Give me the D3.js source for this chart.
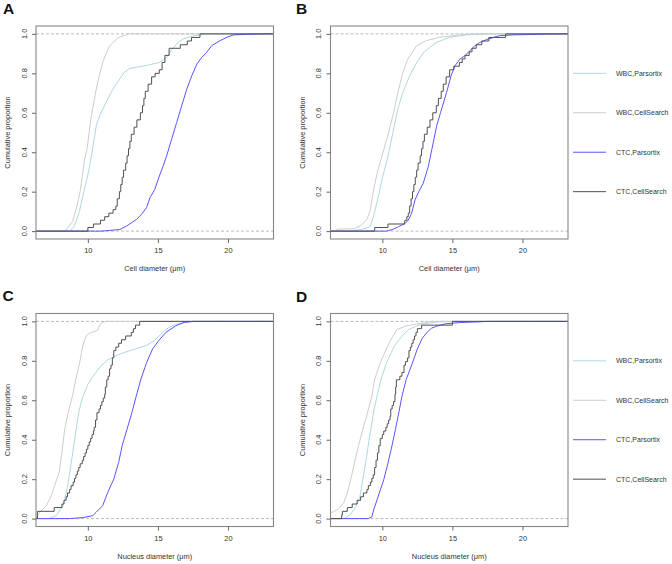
<!DOCTYPE html>
<html>
<head>
<meta charset="utf-8">
<script src="https://cdn.jsdelivr.net/npm/d3@7"></script>
<style>
  html, body { margin: 0; padding: 0; background: #fff; }
  svg { display: block; font-family: "Liberation Sans", Arial, Helvetica, sans-serif; }
</style>
</head>
<body>
<div id="chart"></div>
<script>
// ---------------- DATA ----------------
const categories = ["WBC,Parsortix", "WBC,CellSearch", "CTC,Parsortix", "CTC,CellSearch"];
const panelLetters = ["A", "B", "C", "D"];
const xTitles = ["Cell diameter (\u03bcm)", "Cell diameter (\u03bcm)", "Nucleus diameter (\u03bcm)", "Nucleus diameter (\u03bcm)"];
const yTitle = "Cumulative proportion";
const xTicks = [10, 15, 20];
const yTicks = [0, 0.2, 0.4, 0.6, 0.8, 1.0];
const xLimits = [6.3, 23.25];
const yLimits = [-0.04, 1.04];

// Panel A — cell diameter
const A_wbcParsortix = [[8.7,0],[9.04,0.025],[9.4,0.1],[9.72,0.2],[10.05,0.3],[10.3,0.4],[10.6,0.534],[10.84,0.585],[11.3,0.653],[11.79,0.72],[12.22,0.765],[12.6,0.805],[13.0,0.825],[14.2,0.84],[15.14,0.856],[15.62,0.88],[15.98,0.92],[16.5,0.96],[16.82,0.975],[17.54,0.99],[18.5,1]];
const A_wbcCellSearch = [[8.35,0],[8.6,0.02],[8.92,0.05],[9.2,0.12],[9.45,0.2],[9.76,0.36],[9.95,0.42],[10.24,0.58],[10.5,0.68],[10.6,0.72],[10.85,0.8],[11.08,0.86],[11.3,0.9],[11.56,0.94],[12.15,0.98],[12.5,0.99],[12.9,1]];
const A_ctcParsortix = [[11.0,0],[12.27,0.008],[12.75,0.025],[13.11,0.042],[13.47,0.059],[13.83,0.085],[14.19,0.119],[14.43,0.169],[14.78,0.212],[15.02,0.263],[15.38,0.331],[15.62,0.381],[15.98,0.466],[16.34,0.551],[16.7,0.636],[17.06,0.72],[17.42,0.788],[17.78,0.847],[18.13,0.881],[18.49,0.907],[18.85,0.941],[19.45,0.966],[19.93,0.983],[20.41,0.995],[21.36,0.998],[22.5,1]];
const A_ctcCellSearch = [[10.0,0.018],[10.4,0.036],[10.9,0.055],[11.2,0.073],[11.5,0.091],[11.8,0.109],[12.0,0.127],[12.1,0.164],[12.25,0.2],[12.35,0.236],[12.45,0.273],[12.55,0.309],[12.7,0.345],[12.8,0.382],[12.9,0.418],[13.0,0.455],[13.1,0.491],[13.3,0.527],[13.5,0.564],[13.75,0.6],[13.9,0.636],[14.0,0.673],[14.1,0.709],[14.3,0.745],[14.55,0.782],[14.8,0.8],[15.1,0.818],[15.3,0.855],[15.5,0.891],[15.8,0.927],[16.6,0.945],[17.1,0.964],[17.4,0.982],[18.0,1]];

// Panel B — cell diameter
const B_wbcParsortix = [[7.7,0],[8.5,0.008],[9.12,0.022],[9.36,0.073],[9.7,0.17],[10.0,0.27],[10.35,0.362],[10.6,0.447],[10.85,0.532],[11.1,0.617],[11.45,0.702],[11.95,0.787],[12.5,0.86],[13.0,0.91],[13.87,0.957],[14.82,0.983],[16.01,0.995],[17.67,1]];
const B_wbcCellSearch = [[6.7,0],[6.75,0.01],[8.0,0.012],[8.5,0.03],[8.9,0.06],[9.12,0.1],[9.35,0.2],[9.65,0.3],[10.05,0.4],[10.45,0.5],[10.8,0.6],[11.1,0.7],[11.45,0.8],[11.8,0.87],[12.45,0.94],[13.16,0.966],[14.11,0.983],[15.53,0.995],[16.5,1]];
const B_ctcParsortix = [[10.3,0],[10.8,0.01],[11.14,0.022],[11.62,0.039],[11.85,0.056],[12.09,0.09],[12.33,0.158],[12.6,0.2],[12.92,0.243],[13.28,0.328],[13.55,0.42],[13.87,0.532],[14.15,0.6],[14.58,0.702],[14.9,0.787],[15.18,0.838],[15.53,0.872],[15.89,0.889],[16.25,0.915],[16.6,0.94],[16.96,0.957],[17.55,0.974],[18.38,0.991],[19.33,0.995],[22.5,1]];
const B_ctcCellSearch = [[9.45,0.018],[10.4,0.036],[11.6,0.055],[11.75,0.073],[11.85,0.091],[11.95,0.127],[12.05,0.164],[12.15,0.2],[12.25,0.236],[12.35,0.273],[12.45,0.309],[12.55,0.345],[12.7,0.382],[12.8,0.418],[12.9,0.455],[13.0,0.491],[13.2,0.527],[13.4,0.564],[13.6,0.6],[13.85,0.636],[14.0,0.673],[14.2,0.709],[14.35,0.745],[14.55,0.782],[14.8,0.818],[15.1,0.836],[15.5,0.855],[15.7,0.873],[15.9,0.891],[16.2,0.909],[16.4,0.927],[16.7,0.945],[17.1,0.964],[17.6,0.982],[18.8,1]];

// Panel C — nucleus diameter
const C_wbcParsortix = [[7.2,0],[7.75,0.015],[8.22,0.066],[8.55,0.16],[8.85,0.3],[9.1,0.42],[9.35,0.54],[9.6,0.61],[10.0,0.68],[10.35,0.72],[10.94,0.775],[11.42,0.805],[12.13,0.83],[12.96,0.851],[14.15,0.877],[14.74,0.902],[15.33,0.944],[15.8,0.97],[16.28,0.986],[16.99,0.995],[17.7,1]];
const C_wbcCellSearch = [[6.33,0],[6.4,0.015],[6.56,0.032],[7.04,0.066],[7.39,0.117],[7.63,0.167],[7.95,0.235],[8.15,0.336],[8.35,0.454],[8.6,0.539],[8.9,0.62],[9.15,0.708],[9.42,0.792],[9.64,0.877],[9.9,0.93],[10.23,0.944],[10.7,0.953],[10.83,0.978],[11.06,0.995],[11.4,1]];
const C_ctcParsortix = [[8.7,0],[9.64,0.005],[10.35,0.015],[10.59,0.032],[11.06,0.066],[11.42,0.133],[11.85,0.2],[12.2,0.285],[12.45,0.37],[12.8,0.454],[13.15,0.539],[13.45,0.62],[13.79,0.708],[14.2,0.792],[14.62,0.86],[15.05,0.902],[15.57,0.944],[16.28,0.978],[16.87,0.995],[17.46,1]];
const C_ctcCellSearch = [[6.4,0.037],[7.6,0.056],[8.15,0.074],[8.3,0.093],[8.45,0.111],[8.55,0.13],[8.7,0.148],[8.8,0.167],[8.95,0.185],[9.05,0.204],[9.15,0.222],[9.25,0.241],[9.35,0.259],[9.45,0.278],[9.6,0.296],[9.7,0.315],[9.8,0.333],[9.9,0.352],[10.0,0.37],[10.1,0.389],[10.2,0.407],[10.3,0.426],[10.4,0.444],[10.45,0.463],[10.55,0.5],[10.65,0.537],[10.8,0.556],[10.9,0.574],[11.0,0.593],[11.1,0.611],[11.2,0.63],[11.25,0.667],[11.35,0.704],[11.45,0.722],[11.55,0.759],[11.65,0.778],[11.75,0.815],[11.85,0.852],[12.0,0.87],[12.2,0.889],[12.4,0.907],[12.7,0.926],[13.1,0.944],[13.25,0.963],[13.4,0.981],[13.7,1]];

// Panel D — nucleus diameter
const D_wbcParsortix = [[7.24,0],[7.71,0.019],[8.1,0.061],[8.4,0.112],[8.6,0.197],[8.85,0.3],[9.05,0.4],[9.2,0.46],[9.4,0.55],[9.65,0.63],[9.9,0.705],[10.3,0.79],[10.85,0.875],[11.4,0.925],[11.88,0.959],[12.71,0.985],[13.9,0.997],[15.0,1]];
const D_wbcCellSearch = [[6.3,0.03],[6.52,0.035],[6.88,0.05],[7.24,0.08],[7.5,0.13],[7.75,0.2],[8.0,0.28],[8.3,0.37],[8.6,0.45],[8.95,0.54],[9.25,0.62],[9.45,0.705],[9.85,0.79],[10.38,0.875],[10.75,0.925],[11.05,0.959],[11.7,0.977],[12.95,0.993],[13.5,1]];
const D_ctcParsortix = [[9.0,0],[9.26,0.01],[9.38,0.044],[9.62,0.095],[9.86,0.146],[10.1,0.197],[10.4,0.281],[10.69,0.37],[10.93,0.451],[11.17,0.536],[11.4,0.62],[11.7,0.705],[12.1,0.78],[12.5,0.86],[12.85,0.915],[13.2,0.945],[13.5,0.965],[13.9,0.976],[14.5,0.988],[15.5,0.994],[17.0,0.998],[17.5,1]];
const D_ctcCellSearch = [[7.1,0.019],[7.15,0.037],[7.5,0.056],[7.85,0.074],[8.2,0.093],[8.45,0.111],[8.65,0.13],[8.9,0.148],[9.0,0.167],[9.15,0.185],[9.25,0.204],[9.35,0.222],[9.45,0.259],[9.55,0.296],[9.65,0.333],[9.75,0.37],[9.85,0.407],[10.0,0.426],[10.1,0.444],[10.25,0.463],[10.35,0.481],[10.45,0.5],[10.55,0.519],[10.6,0.556],[10.7,0.574],[10.8,0.593],[10.9,0.63],[10.95,0.667],[11.0,0.704],[11.25,0.722],[11.4,0.741],[11.55,0.778],[11.65,0.796],[11.8,0.815],[11.9,0.852],[12.0,0.87],[12.1,0.889],[12.2,0.907],[12.3,0.926],[12.4,0.944],[12.5,0.963],[12.8,0.981],[15.0,1]];

const panelSeries = [
  [A_wbcParsortix, A_wbcCellSearch, A_ctcParsortix, A_ctcCellSearch],
  [B_wbcParsortix, B_wbcCellSearch, B_ctcParsortix, B_ctcCellSearch],
  [C_wbcParsortix, C_wbcCellSearch, C_ctcParsortix, C_ctcCellSearch],
  [D_wbcParsortix, D_wbcCellSearch, D_ctcParsortix, D_ctcCellSearch]
];

// ---------------- STYLE / LAYOUT ----------------
const W = 672, H = 564;
const colors = ["#add8e6", "#cdcdcd", "#5656ff", "#505050"];
const stepped = [false, false, false, true];
const legendLevels = [0.8, 0.6, 0.4, 0.2];
const layout = [
  {left: 36,    top: 26,    w: 237.5, h: 213, lx: 3,   ly: 13.5},
  {left: 330.5, top: 26,    w: 237.5, h: 213, lx: 296, ly: 13.5},
  {left: 36,    top: 313.5, w: 237.5, h: 213, lx: 2.5, ly: 300.5},
  {left: 330.5, top: 313.5, w: 237.5, h: 213, lx: 296, ly: 301.5}
];
const fs = 7.4;
const textCol = "#333";

const svg = d3.select("#chart").append("svg").attr("width", W).attr("height", H);
svg.append("rect").attr("width", W).attr("height", H).attr("fill", "#fff");

const yScales = [];
layout.forEach((L, i) => {
  const g = svg.append("g");
  const x = d3.scaleLinear().domain(xLimits).range([L.left, L.left + L.w]);
  const y = d3.scaleLinear().domain(yLimits).range([L.top + L.h, L.top]);
  yScales.push(y);

  const clipId = "clip" + i;
  svg.append("clipPath").attr("id", clipId).append("rect")
    .attr("x", L.left).attr("y", L.top).attr("width", L.w).attr("height", L.h);

  // dashed reference lines at 0 and 1
  [0, 1].forEach(v => {
    g.append("line")
      .attr("x1", L.left).attr("x2", L.left + L.w)
      .attr("y1", y(v)).attr("y2", y(v))
      .attr("stroke", "#a8a8a8").attr("stroke-width", 0.8)
      .attr("stroke-dasharray", "3,2");
  });

  // curves
  const cg = g.append("g").attr("clip-path", `url(#${clipId})`);
  panelSeries[i].forEach((data, k) => {
    const pts = [[xLimits[0], stepped[k] ? 0 : data[0][1]]].concat(data, [[xLimits[1], 1]]);
    const line = d3.line().x(d => x(d[0])).y(d => y(d[1]))
      .curve(stepped[k] ? d3.curveStepAfter : d3.curveLinear);
    cg.append("path").attr("d", line(pts))
      .attr("fill", "none").attr("stroke", colors[k])
      .attr("stroke-width", 1).attr("stroke-linejoin", "miter");
  });

  // box
  g.append("rect").attr("x", L.left).attr("y", L.top).attr("width", L.w).attr("height", L.h)
    .attr("fill", "none").attr("stroke", "#888").attr("stroke-width", 1.1);

  // x axis
  const xa = g.append("g").attr("transform", `translate(0,${L.top + L.h})`)
    .call(d3.axisBottom(x).tickValues(xTicks).tickSize(4).tickPadding(5).tickFormat(d3.format("d")));
  xa.select(".domain").remove();
  xa.selectAll("line").attr("stroke", "#666");
  xa.selectAll("text").attr("font-size", fs).attr("fill", textCol)
    .attr("font-family", '"Liberation Sans", Arial, sans-serif');

  // y axis
  const ya = g.append("g").attr("transform", `translate(${L.left},0)`)
    .call(d3.axisLeft(y).tickValues(yTicks).tickSize(4).tickFormat(""));
  ya.select(".domain").remove();
  ya.selectAll("line").attr("stroke", "#666");
  yTicks.forEach(t => {
    g.append("text")
      .attr("transform", `translate(${L.left - 9.3},${y(t)}) rotate(-90)`)
      .attr("text-anchor", "middle").attr("font-size", fs).attr("fill", textCol)
      .text(d3.format(".1f")(t));
  });

  // titles
  g.append("text")
    .attr("x", L.left + L.w / 2).attr("y", L.top + L.h + 32)
    .attr("text-anchor", "middle").attr("font-size", fs).attr("fill", textCol)
    .text(xTitles[i]);
  g.append("text")
    .attr("transform", `translate(${L.left - 26},${L.top + L.h / 2}) rotate(-90)`)
    .attr("text-anchor", "middle").attr("font-size", fs).attr("fill", textCol)
    .text(yTitle);

  // panel letter
  svg.append("text").attr("x", L.lx).attr("y", L.ly)
    .attr("font-size", 15.5).attr("font-weight", "bold").attr("fill", "#111")
    .attr("font-family", '"Liberation Sans", Arial, sans-serif')
    .text(panelLetters[i]);
});

// legends (one per row, to the right of the right-hand panel)
[1, 3].forEach(pi => {
  const y = yScales[pi];
  categories.forEach((c, k) => {
    const yy = y(legendLevels[k]);
    svg.append("line").attr("x1", 573).attr("x2", 606).attr("y1", yy).attr("y2", yy)
      .attr("stroke", colors[k]).attr("stroke-width", 1);
    svg.append("text").attr("x", 616).attr("y", yy + 2.5)
      .attr("font-size", 7).attr("fill", textCol).text(c);
  });
});
</script>
</body>
</html>
